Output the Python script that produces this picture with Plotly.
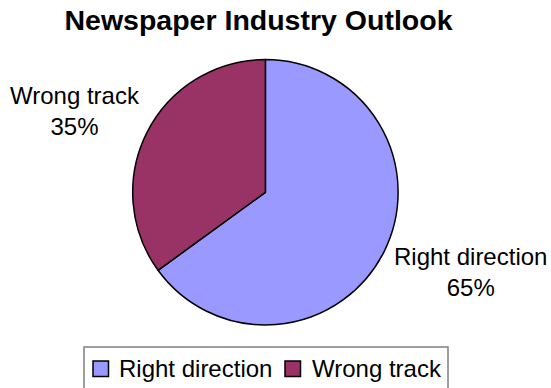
import plotly.graph_objects as go

# Survey responses
labels = ["Right direction", "Wrong track"]
values = [65, 35]
colors = ["#9999FF", "#993366"]

W, H = 551, 388
cx, cy, r = 265.4, 192.3, 132.7  # pie centre and radius in pixels
FONT = "Liberation Sans, Arial, sans-serif"


def px_x(x):
    return x / W


def px_y(y):
    return 1 - y / H


fig = go.Figure(go.Pie(
    labels=labels,
    values=values,
    marker=dict(colors=colors, line=dict(color="black", width=1.5)),
    sort=False,
    direction="clockwise",
    rotation=0,
    textinfo="none",
    hoverinfo="label+percent",
    showlegend=False,
    domain=dict(x=[px_x(cx - r), px_x(cx + r)], y=[px_y(cy + r), px_y(cy - r)]),
))

# Category labels with their share, placed beside the slices
total = sum(values)
label_pos = {"Wrong track": (75, 111), "Right direction": (470, 272)}
for lab, val in zip(labels, values):
    lx, ly = label_pos[lab]
    fig.add_annotation(
        x=px_x(lx), y=px_y(ly), xref="paper", yref="paper",
        xanchor="center", yanchor="middle",
        text=f"{lab}<br>{round(100 * val / total)}%",
        showarrow=False, align="center",
        font=dict(family=FONT, size=24, color="black"),
    )

# Key along the bottom: framed box with a swatch and name per category
fig.add_shape(
    type="rect", xref="paper", yref="paper",
    x0=px_x(84), x1=px_x(448), y0=px_y(400), y1=px_y(347),
    line=dict(color="#808080", width=1.5), fillcolor="rgba(0,0,0,0)",
)
swatch_x = [93, 285]
text_x = [117, 310]
for lab, col, sx, tx in zip(labels, colors, swatch_x, text_x):
    fig.add_shape(
        type="rect", xref="paper", yref="paper",
        x0=px_x(sx), x1=px_x(sx + 15.5), y0=px_y(376.5), y1=px_y(361),
        line=dict(color="black", width=1.5), fillcolor=col,
    )
    fig.add_annotation(
        x=px_x(tx), y=px_y(368.5), xref="paper", yref="paper",
        xanchor="left", yanchor="middle", text=lab, showarrow=False,
        font=dict(family=FONT, size=24, color="black"),
    )

fig.update_layout(
    width=W, height=H,
    margin=dict(l=0, r=0, t=0, b=0),
    paper_bgcolor="white",
    plot_bgcolor="white",
    showlegend=False,
    title=dict(
        text="<b>Newspaper Industry Outlook</b>",
        x=px_x(258.5), xanchor="center", y=px_y(20), yanchor="middle",
        font=dict(family=FONT, size=28.5, color="black"),
    ),
)

fig.write_html("out.html")
